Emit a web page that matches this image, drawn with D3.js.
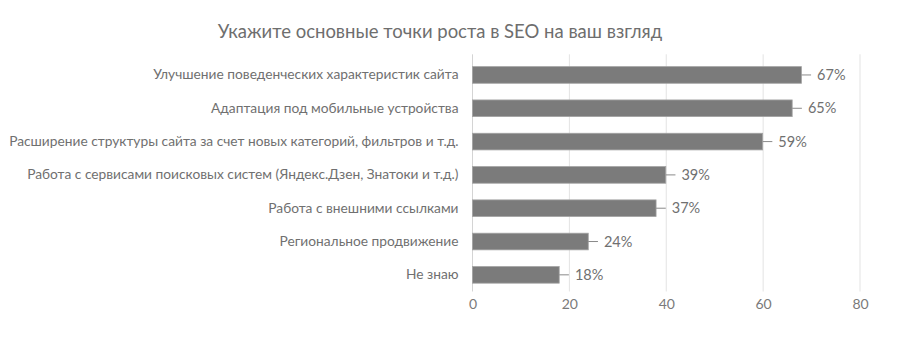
<!DOCTYPE html>
<html><head><meta charset="utf-8">
<script src="https://cdn.jsdelivr.net/npm/d3@7"></script>
<style>
html,body{margin:0;padding:0;background:#fff;}
text{font-family:Lato,"Open Sans",sans-serif;}
</style></head>
<body>
<svg id="chart" width="900" height="360"></svg>
<script>
const titleText = "Укажите основные точки роста в SEO на ваш взгляд";
const categories = [
  "Улучшение поведенческих характеристик сайта",
  "Адаптация под мобильные устройства",
  "Расширение структуры сайта за счет новых категорий, фильтров и т.д.",
  "Работа с сервисами поисковых систем (Яндекс.Дзен, Знатоки и т.д.)",
  "Работа с внешними ссылками",
  "Региональное продвижение",
  "Не знаю"
];
const barValues = [67.9, 66, 59.9, 39.9, 37.9, 23.9, 17.9];
const errorValues = [2, 2, 2, 2, 2, 2, 2];
const valueLabels = ["67%", "65%", "59%", "39%", "37%", "24%", "18%"];
const xTicks = [0, 20, 40, 60, 80];

(function () {
const svg = d3.select("#chart");
const mLeft = 472.5, mRight = 860, mTop = 58.3, mBottom = 291.5;

const x = d3.scaleLinear().domain([0, 80]).range([mLeft, mRight]);
const y = d3.scaleBand().domain(categories).range([mTop, mBottom]).paddingInner(0.5).paddingOuter(0.25);

svg.append("text").attr("x", 440).attr("y", 38).attr("text-anchor", "middle")
  .attr("font-size", 18.5).attr("fill", "#6e6e6e").text(titleText);

// gridlines
svg.append("g").selectAll("line").data(xTicks).join("line")
  .attr("x1", d => x(d)).attr("x2", d => x(d))
  .attr("y1", mTop - 4).attr("y2", mBottom)
  .attr("stroke", d => d === 0 ? "#d4d4d4" : "#e3e3e3").attr("stroke-width", 1);

// x axis labels
const xAxis = d3.axisBottom(x).tickValues(xTicks).tickSize(0).tickPadding(0);
const gx = svg.append("g").attr("transform", `translate(0,${mBottom + 8})`).call(xAxis);
gx.select(".domain").remove();
gx.selectAll("text").attr("font-size", 14).attr("fill", "#7a7a7a").attr("font-family", "Lato,sans-serif");

// category labels
const yAxis = d3.axisLeft(y).tickSize(0).tickPadding(0);
const gy = svg.append("g").attr("transform", `translate(${mLeft - 14},0)`).call(yAxis);
gy.select(".domain").remove();
gy.selectAll("text").attr("font-size", 13.75).attr("fill", "#707070").attr("font-family", "Lato,sans-serif");

// bars
svg.append("g").selectAll("rect").data(barValues).join("rect")
  .attr("x", x(0)).attr("y", (d, i) => y(categories[i]))
  .attr("width", d => x(d) - x(0)).attr("height", y.bandwidth())
  .attr("fill", "#7b7b7b").attr("stroke", "#a3a3a3").attr("stroke-width", 0.8);

// error whiskers
svg.append("g").selectAll("line").data(barValues).join("line")
  .attr("x1", d => x(d)).attr("x2", (d, i) => x(d + errorValues[i]))
  .attr("y1", (d, i) => y(categories[i]) + y.bandwidth() / 2)
  .attr("y2", (d, i) => y(categories[i]) + y.bandwidth() / 2)
  .attr("stroke", "#8a8a8a").attr("stroke-width", 1);

// value labels
svg.append("g").selectAll("text").data(barValues).join("text")
  .attr("x", (d, i) => x(d + errorValues[i]) + 6)
  .attr("y", (d, i) => y(categories[i]) + y.bandwidth() / 2)
  .attr("dy", "0.35em").attr("font-size", 14.5).attr("fill", "#707070")
  .text((d, i) => valueLabels[i]);
})();
</script>
</body></html>
